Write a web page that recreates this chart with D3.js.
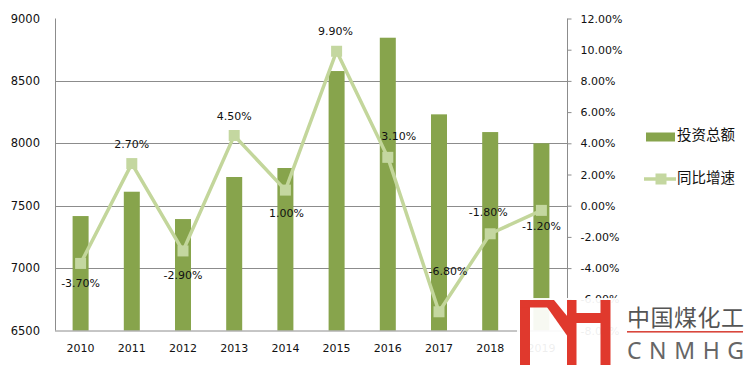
<!DOCTYPE html>
<html>
<head>
<meta charset="utf-8">
<script src="https://cdn.jsdelivr.net/npm/d3@7"></script>
<style>
  html, body { margin: 0; padding: 0; background: #fff; }
  svg { display: block; }
</style>
</head>
<body>
<svg id="chart" width="749" height="371"></svg>
<script>
// ---- data ----
const years = ["2010","2011","2012","2013","2014","2015","2016","2017","2018","2019"];
const investment = [7417, 7612, 7393, 7730, 7802, 8579, 8846, 8232, 8090, 8000];
const growth = [-3.7, 2.7, -2.9, 4.5, 1.0, 9.9, 3.1, -6.8, -1.8, -0.3];
const growthLabels = ["-3.70%","2.70%","-2.90%","4.50%","1.00%","9.90%","3.10%","-6.80%","-1.80%","-1.20%"];
const leftTicks = [6500, 7000, 7500, 8000, 8500, 9000];
const rightTicks = [-8, -6, -4, -2, 0, 2, 4, 6, 8, 10, 12];
const legendNames = ["投资总额", "同比增速"];

// ---- layout (label offsets relative to markers) ----
const labelOffsets = [[0,20],[0,-19],[0,24],[0,-19],[1,23],[-1,-20],[11,-21],[9,-41],[-2,-22],[0,16]];

const svg = d3.select("#chart");
const L = 55, R = 567, T = 18.5, B = 330.5;
const barColor = "#87a44c", lineColor = "#c3d69b", gridColor = "#8c8c8c";
const numFont = "DejaVu Sans, Verdana, sans-serif";

const x = d3.scaleBand().domain(years).range([L, R]);
const yL = d3.scaleLinear().domain([6500, 9000]).range([B, T]);
const yR = d3.scaleLinear().domain([-8, 12]).range([B, T]);

// gridlines
svg.append("g").selectAll("line")
  .data(leftTicks.filter(t => t > 6500 && t < 9000))
  .join("line")
  .attr("x1", L).attr("x2", R)
  .attr("y1", d => Math.round(yL(d)) + 0.5).attr("y2", d => Math.round(yL(d)) + 0.5)
  .attr("stroke", gridColor).attr("stroke-width", 1);

// bars
const bw = 16;
svg.append("g").selectAll("rect")
  .data(investment)
  .join("rect")
  .attr("x", (d, i) => x(years[i]) + x.bandwidth() / 2 - bw / 2)
  .attr("width", bw)
  .attr("y", d => yL(d))
  .attr("height", d => B - yL(d))
  .attr("fill", barColor);

// axes lines
const axisG = svg.append("g").attr("stroke", gridColor).attr("stroke-width", 1);
axisG.append("line").attr("x1", L + 0.5).attr("x2", L + 0.5).attr("y1", T).attr("y2", B);
axisG.append("line").attr("x1", R + 0.5).attr("x2", R + 0.5).attr("y1", T).attr("y2", B);
axisG.append("line").attr("x1", L).attr("x2", R + 1).attr("y1", B + 0.5).attr("y2", B + 0.5);

// left axis labels
const leftAxis = d3.axisLeft(yL).tickValues(leftTicks).tickSize(0).tickPadding(15).tickFormat(d3.format("d"));
const gl = svg.append("g").attr("transform", `translate(${L},0)`).call(leftAxis);
gl.select(".domain").remove();
gl.selectAll("text").attr("font-family", numFont).attr("font-size", 11.5).attr("fill", "#111");

// right axis
const rightAxis = d3.axisRight(yR).tickValues(rightTicks).tickSize(4).tickPadding(9)
  .tickFormat(d => d.toFixed(2) + "%");
const gr = svg.append("g").attr("transform", `translate(${R + 0.5},0)`).call(rightAxis);
gr.select(".domain").remove();
gr.selectAll("line").attr("stroke", gridColor);
gr.selectAll("text").attr("font-family", numFont).attr("font-size", 11).attr("fill", "#111");

// bottom axis labels
const bottomAxis = d3.axisBottom(x).tickSize(0).tickPadding(14);
const gb = svg.append("g").attr("transform", `translate(0,${B})`).call(bottomAxis);
gb.select(".domain").remove();
gb.selectAll("text").attr("font-family", numFont).attr("font-size", 11).attr("fill", "#111");

// line
const cx = i => x(years[i]) + x.bandwidth() / 2;
const line = d3.line().x((d, i) => cx(i)).y(d => yR(d));
svg.append("path").datum(growth)
  .attr("d", line).attr("fill", "none")
  .attr("stroke", lineColor).attr("stroke-width", 3.5).attr("stroke-linejoin", "miter");

const ms = 11;
svg.append("g").selectAll("rect")
  .data(growth)
  .join("rect")
  .attr("x", (d, i) => cx(i) - ms / 2)
  .attr("y", d => yR(d) - ms / 2)
  .attr("width", ms).attr("height", ms)
  .attr("fill", "#c4d7a0");

// data labels
svg.append("g").selectAll("text")
  .data(growthLabels)
  .join("text")
  .attr("x", (d, i) => cx(i) + labelOffsets[i][0])
  .attr("y", (d, i) => yR(growth[i]) + labelOffsets[i][1])
  .attr("dy", "0.35em")
  .attr("text-anchor", "middle")
  .attr("font-family", numFont).attr("font-size", 11).attr("fill", "#111")
  .text(d => d);

// legend
const lg = svg.append("g");
lg.append("rect").attr("x", 646).attr("y", 132.5).attr("width", 29).attr("height", 9).attr("fill", barColor);
lg.append("text").attr("x", 677).attr("y", 134).attr("dy", "0.38em")
  .attr("font-family", "Noto Sans CJK SC, sans-serif").attr("font-size", 14.5).attr("fill", "#111")
  .text(legendNames[0]);
lg.append("line").attr("x1", 644).attr("x2", 676).attr("y1", 179).attr("y2", 179)
  .attr("stroke", lineColor).attr("stroke-width", 3.5);
lg.append("rect").attr("x", 655.5).attr("y", 173.5).attr("width", 11).attr("height", 11).attr("fill", "#c4d7a0");
lg.append("text").attr("x", 677).attr("y", 177).attr("dy", "0.38em")
  .attr("font-family", "Noto Sans CJK SC, sans-serif").attr("font-size", 14.5).attr("fill", "#111")
  .text(legendNames[1]);

// watermark logo
const wm = svg.append("g");
wm.append("rect").attr("x", 517).attr("y", 298).attr("width", 232).attr("height", 73)
  .attr("fill", "#fff").attr("opacity", 0.93);
const red = "#e0392d";
wm.append("rect").attr("x", 520).attr("y", 300).attr("width", 10).attr("height", 65).attr("fill", red);
wm.append("rect").attr("x", 520).attr("y", 300).attr("width", 30).attr("height", 7.5).attr("fill", red);
wm.append("polygon").attr("points", "542,300 554,300 576,327 568,337").attr("fill", red);
wm.append("rect").attr("x", 567).attr("y", 300).attr("width", 9.5).attr("height", 65).attr("fill", red);
wm.append("rect").attr("x", 576).attr("y", 313).attr("width", 25).attr("height", 10).attr("fill", red);
wm.append("rect").attr("x", 600.5).attr("y", 300).attr("width", 10).attr("height", 65).attr("fill", red);
wm.append("text").attr("x", 627).attr("y", 318).attr("dy", "0.36em")
  .attr("font-family", "Noto Sans CJK SC, sans-serif").attr("font-size", 23).attr("fill", "#555")
  .attr("textLength", 117)
  .text("中国煤化工");
wm.append("rect").attr("x", 627).attr("y", 331).attr("width", 116).attr("height", 1.6).attr("fill", "#d9473d");
wm.append("text").attr("x", 627).attr("y", 358.5)
  .attr("font-family", "Noto Sans, sans-serif").attr("font-size", 23).attr("fill", "#666")
  .attr("textLength", 117)
  .text("CNMHG");
</script>
</body>
</html>
